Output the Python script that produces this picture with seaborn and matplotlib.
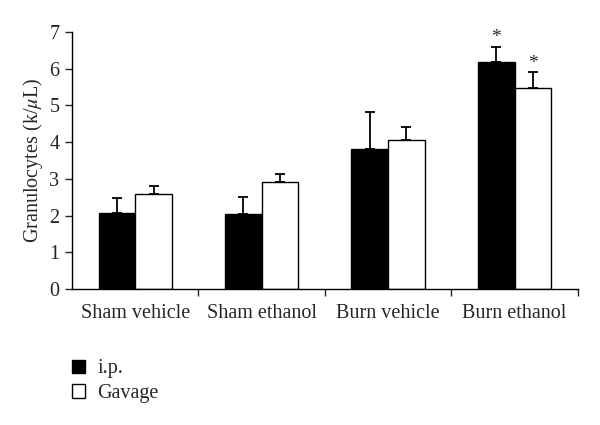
import matplotlib
matplotlib.use("Agg")
import matplotlib.pyplot as plt
from matplotlib.patches import Patch
import seaborn as sns
import pandas as pd
import numpy as np

groups = ["Sham vehicle", "Sham ethanol", "Burn vehicle", "Burn ethanol"]
routes = ["i.p.", "Gavage"]
ip_mean = [2.07, 2.04, 3.81, 6.17]
ip_err = [0.40, 0.46, 1.00, 0.43]
gav_mean = [2.58, 2.92, 4.05, 5.47]
gav_err = [0.23, 0.21, 0.36, 0.43]
signif = [[False, False], [False, False], [False, False], [True, True]]

df = pd.DataFrame({
    "group": groups * 2,
    "route": [routes[0]] * 4 + [routes[1]] * 4,
    "value": ip_mean + gav_mean,
})

sns.set_style("ticks")
plt.rcParams["font.family"] = ["Liberation Serif", "DejaVu Serif"]
plt.rcParams["mathtext.fontset"] = "stix"

fig = plt.figure(figsize=(6, 4.25), dpi=100)
ax = fig.add_axes([0.12, 0.32, 0.843, 0.605])
sns.barplot(data=df, x="group", y="value", hue="route", order=groups,
            hue_order=routes, palette=["black", "white"], edgecolor="black",
            linewidth=1, width=0.58, ax=ax, legend=False, errorbar=None)

errs = [ip_err, gav_err]
bar_conts = list(ax.containers)
for h, cont in enumerate(bar_conts):
    for i, bar in enumerate(cont.patches):
        xc = bar.get_x() + bar.get_width() / 2
        top = bar.get_height()
        e = errs[h][i]
        ax.errorbar(xc, top, yerr=[[0], [e]], fmt="none", ecolor="black",
                    elinewidth=1.3, capsize=3.5, capthick=1.3)
        if signif[i][h]:
            ax.text(xc, top + e + 0.02, "*", ha="center", va="bottom", fontsize=14)

ax.set_xlim(-0.5, 3.5)
ax.set_ylim(0, 7)
ax.set_yticks(range(8))
ax.set_xlabel("")
ax.set_ylabel("Granulocytes (k/$\\mu$L)", fontsize=14.5, labelpad=3)
ax.tick_params(axis="x", length=0, labelsize=14.5, pad=11)
ax.tick_params(axis="y", length=5, width=1, labelsize=14.5, direction="out", pad=4)
ax.set_xticks(np.arange(0.5, 4, 1), minor=True)
ax.tick_params(axis="x", which="minor", length=5, width=1, direction="out")
for s in ["top", "right"]:
    ax.spines[s].set_visible(False)
for s in ["left", "bottom"]:
    ax.spines[s].set_linewidth(1)
    ax.spines[s].set_color("black")

handles = [Patch(facecolor="black", edgecolor="black", label=routes[0]),
           Patch(facecolor="white", edgecolor="black", label=routes[1])]
fig.legend(handles=handles, loc="upper left", bbox_to_anchor=(0.09, 0.197),
           frameon=False, fontsize=14.5, handlelength=0.65, handleheight=0.65,
           handletextpad=0.6, labelspacing=0.28)

fig.savefig("out.png", dpi=100)
